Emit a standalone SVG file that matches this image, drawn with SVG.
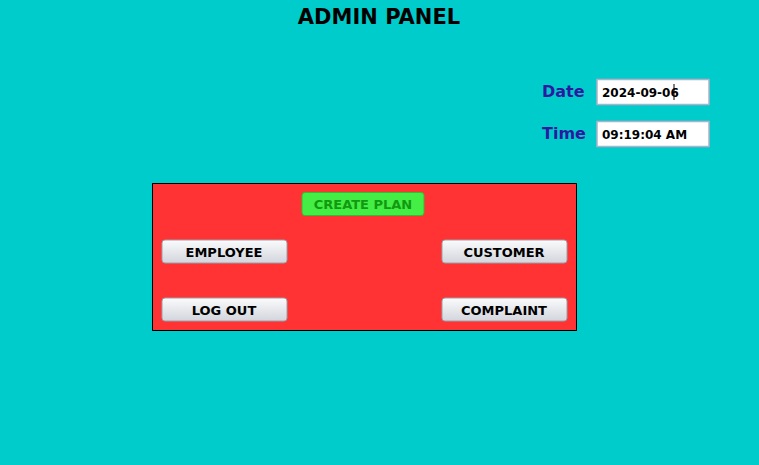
<svg xmlns="http://www.w3.org/2000/svg" width="759" height="465" viewBox="0 0 759 465">
<defs>
<linearGradient id="btn" x1="0" y1="0" x2="0" y2="1"><stop offset="0" stop-color="#fbfbfc"/><stop offset="0.5" stop-color="#e6e8ec"/><stop offset="1" stop-color="#d2d5dc"/></linearGradient>
<style>
text{font-family:"DejaVu Sans","Liberation Sans",sans-serif;font-weight:bold}
.b rect{fill:url(#btn);stroke:#9aa0aa;stroke-width:1}
.b text{font-size:13px;fill:#000;text-anchor:middle}
.lbl{font-size:16px;fill:#2b1aa0}
.fld{fill:#fff;stroke:#b0b0c8;stroke-width:1.5}
.ft{font-size:12px;fill:#000}
</style>
</defs>
<rect width="759" height="465" fill="#00cccc"/>
<text x="379" y="24" font-size="21" text-anchor="middle" fill="#000">ADMIN PANEL</text>
<g id="date"><text class="lbl" x="542" y="97">Date</text><rect class="fld" x="597" y="79.500" width="112" height="25"/><text class="ft" x="602" y="97">2024-09-06</text><line x1="674" y1="84" x2="674" y2="100" stroke="#000"/></g>
<g id="time"><text class="lbl" x="542" y="139">Time</text><rect class="fld" x="597" y="121.500" width="112" height="25"/><text class="ft" x="602" y="139">09:19:04 AM</text></g>
<g id="panel"><rect x="152.500" y="183.500" width="424" height="147" fill="#ff3333" stroke="#000"/></g>
<g id="create"><rect x="302" y="192.500" width="122" height="23" rx="3" fill="#44ee44" stroke="#33bb33"/><text x="363" y="209" font-size="13" text-anchor="middle" fill="#119911">CREATE PLAN</text></g>
<g id="employee" class="b"><rect x="162" y="240" width="125" height="23" rx="3"/><text x="224" y="257">EMPLOYEE</text></g>
<g id="customer" class="b"><rect x="442" y="240" width="125" height="23" rx="3"/><text x="504" y="257">CUSTOMER</text></g>
<g id="logout" class="b"><rect x="162" y="298" width="125" height="23" rx="3"/><text x="224" y="315">LOG OUT</text></g>
<g id="complaint" class="b"><rect x="442" y="298" width="125" height="23" rx="3"/><text x="504" y="315">COMPLAINT</text></g>
<g id="connectors"/>
</svg>
